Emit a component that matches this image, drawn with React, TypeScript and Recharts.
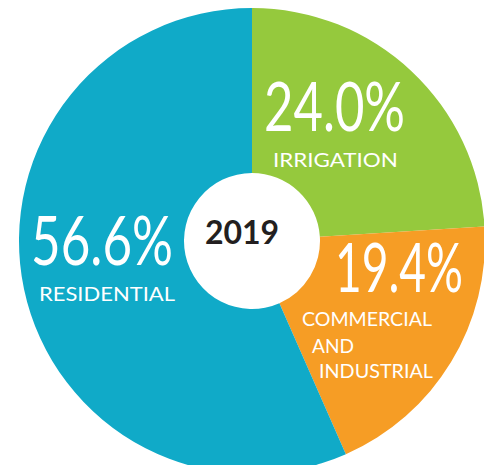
import { PieChart, Pie, Cell, Label } from 'recharts'

const categories = ['Irrigation', 'Commercial and Industrial', 'Residential']
const values = [24.0, 19.4, 56.6]
const labelLines = [['IRRIGATION'], ['COMMERCIAL', 'AND', 'INDUSTRIAL'], ['RESIDENTIAL']]
const colors = ['#95c93d', '#f69d25', '#10aac8']
const year = '2019'

const data = categories.map((name, i) => ({ name, value: values[i] }))

// text placement relative to the pie centre: [dx, dy, width]
const pctPos = [
  [12, -110, 141],
  [83, 51, 128],
  [-221, 24, 142],
]
const namePos = [
  [[21, -74, 125]],
  [[50, 85, 130], [60, 112, 42], [67, 137, 114]],
  [[-213, 60, 136]],
]

const font = 'Lato, "Open Sans", sans-serif'

let ctx: CanvasRenderingContext2D | null = null
function measure(s: string, size: number) {
  if (!ctx) ctx = document.createElement('canvas').getContext('2d')
  if (!ctx) return s.length * size * 0.6
  ctx.font = `${size}px Lato`
  return ctx.measureText(s).width
}

// narrow text drawn by squeezing it horizontally to the width seen in the picture
function Squeezed({ x, y, w, size, children }: { x: number; y: number; w: number; size: number; children: string }) {
  const sx = w / measure(children, size)
  return (
    <text
      transform={`translate(${x},${y}) scale(${sx.toFixed(3)},1)`}
      fill="#fff"
      fontSize={size}
      fontFamily={font}
      textAnchor="start"
    >
      {children}
    </text>
  )
}

const renderLabel = (props: any) => {
  const { cx, cy, index } = props
  const p = pctPos[index]
  return (
    <g>
      <Squeezed x={cx + p[0]} y={cy + p[1]} w={p[2]} size={68}>
        {values[index].toFixed(1) + '%'}
      </Squeezed>
      {labelLines[index].map((line, j) => {
        const q = namePos[index][j]
        return (
          <Squeezed key={line} x={cx + q[0]} y={cy + q[1]} w={q[2]} size={20}>
            {line}
          </Squeezed>
        )
      })}
    </g>
  )
}

export default function App() {
  return (
    <div style={{ position: 'absolute', left: 0, top: 0, background: '#fff' }}>
      <PieChart width={484} height={465}>
        <Pie
          data={data}
          dataKey="value"
          nameKey="name"
          cx={247}
          cy={236}
          innerRadius={68}
          outerRadius={233}
          startAngle={90}
          endAngle={-270}
          stroke="none"
          label={renderLabel}
          labelLine={false}
          isAnimationActive={false}
        >
          {data.map((d, i) => (
            <Cell key={d.name} fill={colors[i]} />
          ))}
          <Label
            value={year}
            position="center"
            fill="#231f20"
            fontSize={32}
            fontWeight="bold"
            fontFamily={font}
          />
        </Pie>
      </PieChart>
    </div>
  )
}
